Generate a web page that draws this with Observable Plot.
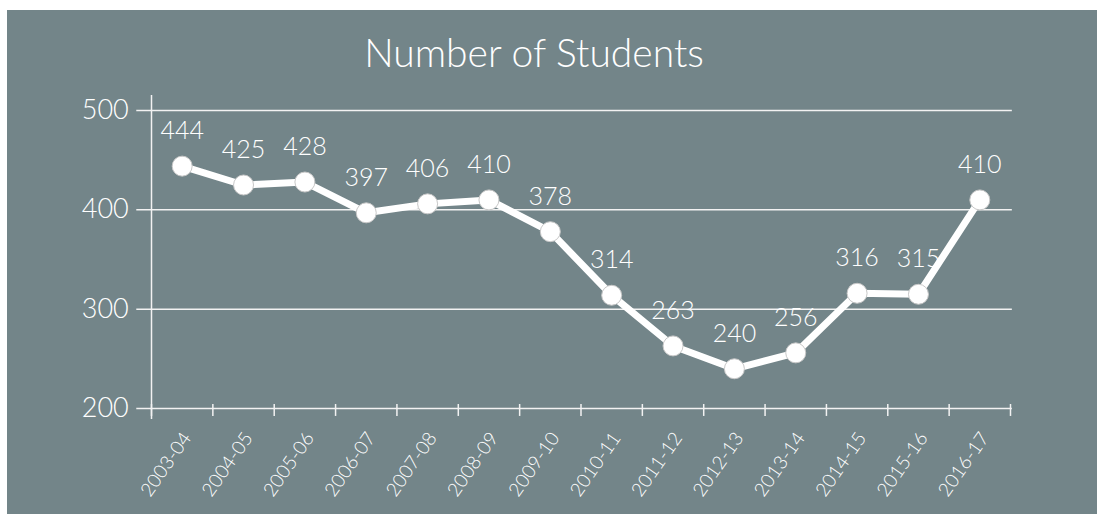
<!DOCTYPE html>
<html>
<head>
<meta charset="utf-8">
<script src="https://cdn.jsdelivr.net/npm/d3@7"></script>
<script src="https://cdn.jsdelivr.net/npm/@observablehq/plot@0.6"></script>
<style>
  html, body { margin: 0; padding: 0; background: #ffffff; }
  #panel {
    position: absolute; left: 7px; top: 10px; width: 1090px; height: 504px;
    background: #738589; overflow: hidden;
  }
  #title {
    position: absolute; left: 527px; top: 20px; transform: translateX(-50%);
    font-family: Lato, "Open Sans", sans-serif; font-size: 39px; line-height: 44px;
    font-weight: 300; color: #ffffff; white-space: nowrap;
  }
  #chart { position: absolute; left: 0; top: 70px; }
</style>
</head>
<body>
<div id="panel">
  <div id="title">Number of Students</div>
  <div id="chart"></div>
</div>
<script>
const years = ["2003-04","2004-05","2005-06","2006-07","2007-08","2008-09","2009-10","2010-11","2011-12","2012-13","2013-14","2014-15","2015-16","2016-17"];
const students = [444, 425, 428, 397, 406, 410, 378, 314, 263, 240, 256, 316, 315, 410];
const yTicks = [200, 300, 400, 500];

const data = years.map((y, i) => ({year: y, idx: i + 0.5, value: students[i]}));
const edges = d3.range(years.length + 1);

const font = "Lato, 'Open Sans', sans-serif";
const chart = Plot.plot({
  width: 1090,
  height: 434,
  marginLeft: 144,
  marginRight: 87,
  marginTop: 30,
  marginBottom: 106,
  style: {background: "transparent", fontFamily: font, color: "#ffffff", overflow: "visible"},
  x: {type: "linear", domain: [0, years.length], axis: null},
  y: {type: "linear", domain: [200, 500], axis: null},
  marks: [
    Plot.ruleY(yTicks, {x1: -0.24, x2: years.length + 0.03, stroke: "#f2f2f2", strokeWidth: 1.5}),
    Plot.ruleX([0], {y1: 189, y2: 515, stroke: "#f2f2f2", strokeWidth: 1.5}),
    Plot.ruleX(edges, {y1: 192, y2: 204, stroke: "#f2f2f2", strokeWidth: 1.5}),
    Plot.text(yTicks, {x: -0.24, y: d => d, dx: -8, text: d => String(d), textAnchor: "end", fontSize: 27, fontWeight: 300, fill: "#ffffff"}),
    Plot.text(data, {x: "idx", y: 200, text: "year", dy: 26, dx: 5, rotate: -55, textAnchor: "end", lineAnchor: "middle", fontSize: 19, fontWeight: 300, fill: "#ffffff"}),
    Plot.line(data, {x: "idx", y: "value", stroke: "#ffffff", strokeWidth: 7}),
    Plot.dot(data, {x: "idx", y: "value", r: 10, fill: "#ffffff", stroke: "#c8c8c8", strokeWidth: 1}),
    Plot.text(data, {x: "idx", y: "value", text: d => String(d.value), dy: -27, lineAnchor: "bottom", fontSize: 25, fontWeight: 300, fill: "#ffffff"})
  ]
});
document.getElementById("chart").appendChild(chart);
</script>
</body>
</html>
